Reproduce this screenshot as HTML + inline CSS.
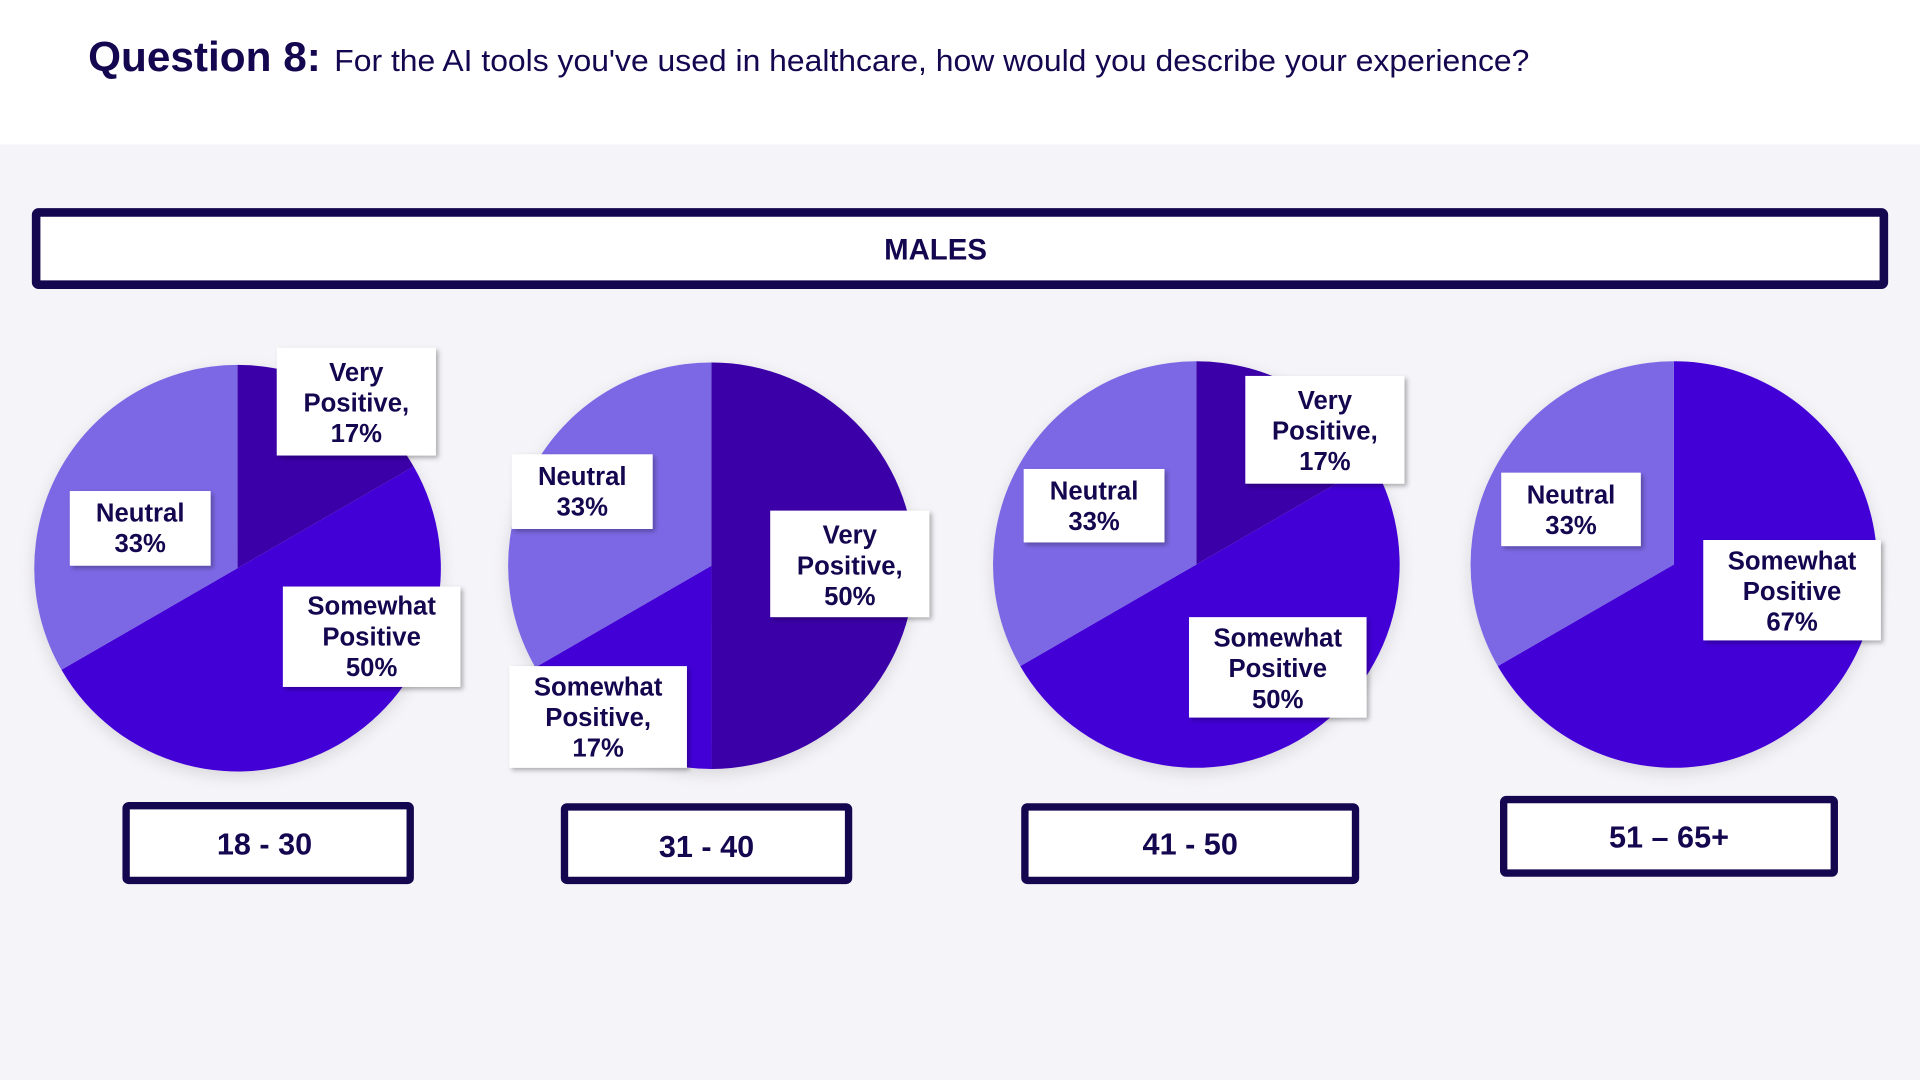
<!DOCTYPE html>
<html><head><meta charset="utf-8"><style>
html,body{margin:0;padding:0;width:1920px;height:1080px;overflow:hidden;background:#fff}
svg{display:block}
text{font-family:"Liberation Sans",Arial,sans-serif;font-weight:bold;fill:#14064f}
</style></head><body>
<svg width="1920" height="1080" viewBox="0 0 1568 882" preserveAspectRatio="none" xmlns="http://www.w3.org/2000/svg">
<defs>
<filter id="sh" x="-20%" y="-20%" width="150%" height="150%"><feDropShadow dx="2" dy="2" stdDeviation="2" flood-color="#000" flood-opacity="0.3"/></filter>
<filter id="ps" x="-20%" y="-20%" width="140%" height="140%"><feDropShadow dx="0" dy="4" stdDeviation="6" flood-color="#000" flood-opacity="0.12"/></filter>
</defs>
<rect x="0" y="0" width="1568" height="118" fill="#fff"/>
<rect x="0" y="118" width="1568" height="764" fill="#f5f4f9"/>
<text x="72" y="58" font-size="34" textLength="190" lengthAdjust="spacingAndGlyphs">Question 8:</text>
<text x="273" y="58" font-size="25" textLength="976" lengthAdjust="spacingAndGlyphs" style="font-weight:normal">For the AI tools you've used in healthcare, how would you describe your experience?</text>

<rect x="29.5" y="173.5" width="1509" height="59" fill="#fff" stroke="#14064f" stroke-width="7" rx="2"/>
<text x="764" y="212" font-size="24" text-anchor="middle">MALES</text>

<g filter="url(#ps)">
<path d="M194,464 L194,298 A166,166 0 0 1 337.8,381 Z" fill="#3a00a8"/>
<path d="M194,464 L337.8,381 A166,166 0 0 1 50.2,547 Z" fill="#4300d6"/>
<path d="M194,464 L50.2,547 A166,166 0 0 1 194,298 Z" fill="#7b68e4"/>
</g>
<g filter="url(#ps)">
<path d="M581,462 L581,296 A166,166 0 0 1 581,628 Z" fill="#3a00a8"/>
<path d="M581,462 L581,628 A166,166 0 0 1 437.2,545 Z" fill="#4300d6"/>
<path d="M581,462 L437.2,545 A166,166 0 0 1 581,296 Z" fill="#7b68e4"/>
</g>
<g filter="url(#ps)">
<path d="M977,461 L977,295 A166,166 0 0 1 1120.8,378 Z" fill="#3a00a8"/>
<path d="M977,461 L1120.8,378 A166,166 0 0 1 833.2,544 Z" fill="#4300d6"/>
<path d="M977,461 L833.2,544 A166,166 0 0 1 977,295 Z" fill="#7b68e4"/>
</g>
<g filter="url(#ps)">
<path d="M1367,461 L1367,295 A166,166 0 1 1 1223.2,544 Z" fill="#4300d6"/>
<path d="M1367,461 L1223.2,544 A166,166 0 0 1 1367,295 Z" fill="#7b68e4"/>
</g>

<g filter="url(#sh)" fill="#fff">
<rect x="226" y="284" width="130" height="88"/>
<rect x="57" y="401" width="115" height="61"/>
<rect x="231" y="479" width="145" height="82"/>
<rect x="418" y="371" width="115" height="61"/>
<rect x="629" y="417" width="130" height="87"/>
<rect x="416" y="544" width="145" height="83"/>
<rect x="1017" y="307" width="130" height="88"/>
<rect x="836" y="383" width="115" height="60"/>
<rect x="971" y="504" width="145" height="82"/>
<rect x="1226" y="386" width="114" height="60"/>
<rect x="1391" y="441" width="145" height="82"/>
</g>
<g font-size="21" text-anchor="middle">
<text x="291" y="311">Very</text><text x="291" y="336">Positive,</text><text x="291" y="361">17%</text>
<text x="114.5" y="426">Neutral</text><text x="114.5" y="451">33%</text>
<text x="303.5" y="502">Somewhat</text><text x="303.5" y="527">Positive</text><text x="303.5" y="552">50%</text>
<text x="475.5" y="396">Neutral</text><text x="475.5" y="421">33%</text>
<text x="694" y="444">Very</text><text x="694" y="469">Positive,</text><text x="694" y="494">50%</text>
<text x="488.5" y="568">Somewhat</text><text x="488.5" y="593">Positive,</text><text x="488.5" y="618">17%</text>
<text x="1082" y="334">Very</text><text x="1082" y="359">Positive,</text><text x="1082" y="384">17%</text>
<text x="893.5" y="408">Neutral</text><text x="893.5" y="433">33%</text>
<text x="1043.5" y="528">Somewhat</text><text x="1043.5" y="553">Positive</text><text x="1043.5" y="578">50%</text>
<text x="1283" y="411">Neutral</text><text x="1283" y="436">33%</text>
<text x="1463.5" y="465">Somewhat</text><text x="1463.5" y="490">Positive</text><text x="1463.5" y="515">67%</text>
</g>

<g fill="#fff" stroke="#14064f" stroke-width="6">
<rect x="103" y="658" width="232" height="61" rx="2"/>
<rect x="461" y="659" width="232" height="60" rx="2"/>
<rect x="837" y="659" width="270" height="60" rx="2"/>
<rect x="1228" y="653" width="270" height="60" rx="2"/>
</g>
<g font-size="25" text-anchor="middle">
<text x="216" y="698">18 - 30</text>
<text x="577" y="700">31 - 40</text>
<text x="972" y="698">41 - 50</text>
<text x="1363" y="692">51 – 65+</text>
</g>
</svg>
</body></html>
